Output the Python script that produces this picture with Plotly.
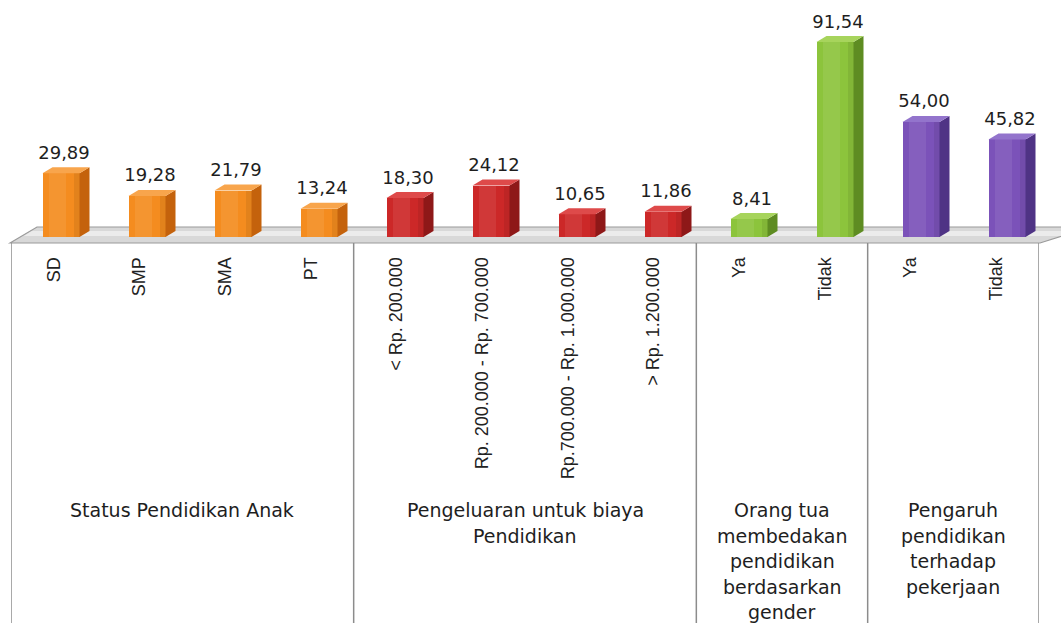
import plotly.graph_objects as go

categories = ["SD", "SMP", "SMA", "PT",
              "< Rp. 200.000", "Rp. 200.000 - Rp. 700.000",
              "Rp.700.000 - Rp. 1.000.000", "> Rp. 1.200.000",
              "Ya", "Tidak", "Ya", "Tidak"]
values = [29.89, 19.28, 21.79, 13.24, 18.30, 24.12, 10.65, 11.86, 8.41, 91.54, 54.00, 45.82]
group_names = ["Status Pendidikan Anak",
               "Pengeluaran untuk biaya<br>Pendidikan",
               "Orang tua<br>membedakan<br>pendidikan<br>berdasarkan<br>gender",
               "Pengaruh<br>pendidikan<br>terhadap<br>pekerjaan"]
group_sizes = [4, 4, 2, 2]
front_colors = ["#F48C1F", "#CC2828", "#8CC43C", "#7B52B9"]
side_colors = ["#C4620C", "#8E1818", "#5E8C22", "#4F3385"]
top_colors = ["#F8A54C", "#DE4A4A", "#A7D45C", "#9374CC"]

W, H = 1061, 623
X0, X1 = 11, 1039          # pixel span of the category axis
BASE = 237                 # pixel row of value 0
PPU = 2.13                 # pixels per value unit
BAR0, BARSTEP = 61, 86     # bar front centres (perspective)
DEPTH_X, DEPTH_Y = 10, 6   # 3-D depth in pixels
BAR_W = 37
LINE_H = 25.5

n = len(categories)
yr1 = BASE / PPU
yr0 = yr1 - H / PPU
x2r0 = -(BAR0 - X0) / BARSTEP
x2r1 = x2r0 + (X1 - X0) / BARSTEP
dx = DEPTH_X / BARSTEP
dy = DEPTH_Y / PPU
bw = BAR_W / BARSTEP


def px(xp):
    return xp / W


def py(yp):
    return 1 - yp / H


gidx = []
for g, s in enumerate(group_sizes):
    gidx += [g] * s

fig = go.Figure()

# front faces
fig.add_trace(go.Bar(
    x=list(range(n)), y=values, width=bw,
    marker=dict(color=[front_colors[g] for g in gidx], line=dict(width=0)),
    xaxis="x2", yaxis="y", hoverinfo="skip", showlegend=False))
# soft shading on front faces
fig.add_trace(go.Bar(
    x=[i - bw * 0.1 for i in range(n)], y=values, width=bw * 0.45,
    marker=dict(color="rgba(255,255,255,0.08)", line=dict(width=0)),
    xaxis="x2", yaxis="y", hoverinfo="skip", showlegend=False))
fig.add_trace(go.Bar(
    x=[i + bw * 0.42 for i in range(n)], y=values, width=bw * 0.16,
    marker=dict(color="rgba(0,0,0,0.07)", line=dict(width=0)),
    xaxis="x2", yaxis="y", hoverinfo="skip", showlegend=False))

for i, v in enumerate(values):
    g = gidx[i]
    xl, xr = i - bw / 2, i + bw / 2
    # side face
    fig.add_trace(go.Scatter(
        x=[xr, xr + dx, xr + dx, xr, xr], y=[0, dy, v + dy, v, 0],
        fill="toself", fillcolor=side_colors[g], line=dict(width=0),
        mode="lines", xaxis="x2", yaxis="y", hoverinfo="skip", showlegend=False))
    # top face
    fig.add_trace(go.Scatter(
        x=[xl, xr, xr + dx, xl + dx, xl], y=[v, v, v + dy, v + dy, v],
        fill="toself", fillcolor=top_colors[g], line=dict(width=0),
        mode="lines", xaxis="x2", yaxis="y", hoverinfo="skip", showlegend=False))

# value labels
fig.add_trace(go.Scatter(
    x=[i + dx * 0.3 for i in range(n)],
    y=[v + dy + 4 / PPU for v in values],
    text=[f"{v:.2f}".replace(".", ",") for v in values],
    mode="text", textposition="top center",
    textfont=dict(family="DejaVu Sans", size=18, color="#1e1e1e"),
    xaxis="x2", yaxis="y", hoverinfo="skip", showlegend=False))

shapes = []
# floor
shapes.append(dict(
    type="path", xref="paper", yref="paper", layer="below",
    path=f"M {px(10)} {py(243)} L {px(37)} {py(227)} L {px(1090)} {py(227)} L {px(1040)} {py(243)} Z",
    fillcolor="#d8d8d8", line=dict(color="#9a9a9a", width=1.2)))
shapes.append(dict(
    type="path", xref="paper", yref="paper", layer="below",
    path=f"M {px(24)} {py(236)} L {px(32)} {py(231)} L {px(1075)} {py(231)} L {px(1060)} {py(236)} Z",
    fillcolor="#ebebeb", line=dict(width=0)))
# box lines
bounds = [0]
for s in group_sizes:
    bounds.append(bounds[-1] + s)
for b in bounds:
    xb = b - 0.5
    shapes.append(dict(type="line", xref="x", yref="paper",
                       x0=xb, x1=xb, y0=py(243), y1=0,
                       line=dict(color="#8c8c8c", width=1.5)))

annotations = []
for g, name in enumerate(group_names):
    c = (bounds[g] + bounds[g + 1] - 1) / 2
    for k, line in enumerate(name.split("<br>")):
        annotations.append(dict(
            x=c, y=py(510 + k * LINE_H), xref="x", yref="paper", text=line,
            showarrow=False, xanchor="center", yanchor="middle",
            font=dict(family="DejaVu Sans", size=19, color="#1e1e1e")))

fig.update_layout(
    width=W, height=H,
    margin=dict(l=0, r=0, t=0, b=0),
    paper_bgcolor="white", plot_bgcolor="white",
    shapes=shapes, annotations=annotations,
    bargap=0, barmode="overlay",
    xaxis=dict(domain=[px(X0), px(X1)], range=[-0.5, n - 0.5],
               tickvals=list(range(n)), ticktext=categories, tickangle=-90,
               anchor="free", position=py(243), showline=False,
               showgrid=False, zeroline=False, ticks="outside", ticklen=6,
               tickcolor="rgba(0,0,0,0)",
               tickfont=dict(family="Liberation Sans", size=18, color="#222222")),
    xaxis2=dict(overlaying="x", range=[x2r0, x2r1], visible=False,
                anchor="y", domain=[px(X0), px(X1)]),
    yaxis=dict(domain=[0, 1], range=[yr0, yr1], visible=False),
)

fig.write_html("out.html")
